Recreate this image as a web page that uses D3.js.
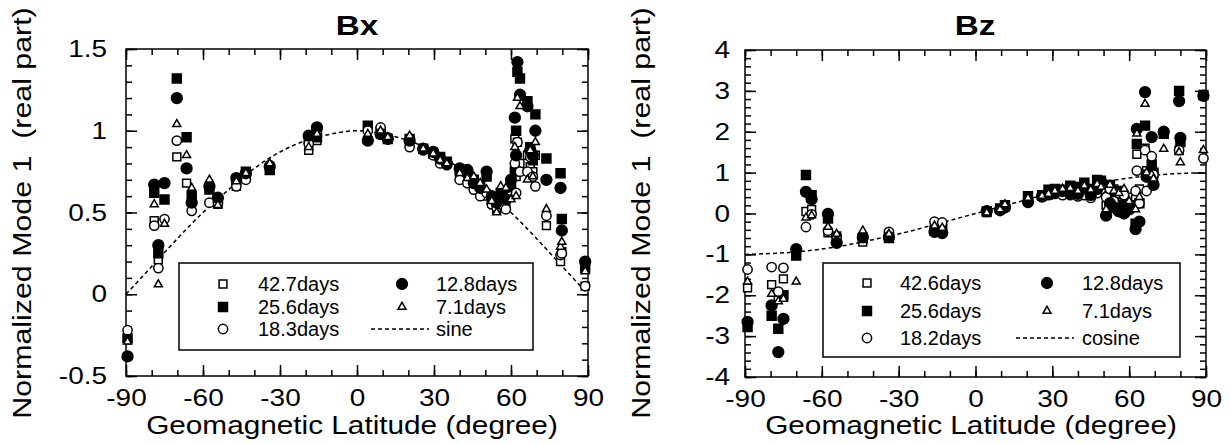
<!DOCTYPE html>
<html>
<head>
<meta charset="utf-8">
<script src="https://cdn.jsdelivr.net/npm/d3@7"></script>
<style>
  body { margin: 0; background: #fff; }
  text { font-family: "Liberation Sans", Arial, Helvetica, sans-serif; fill: #000; }
</style>
</head>
<body>
<div id="chart"></div>
<script>
// ---- data: Bx panel (station latitude + one value per period) ----
const bxLat = [-89.4, -79, -77.4, -75, -70.2, -66.4, -64.4, -57.5, -54.2, -47, -43.3, -34, -18.8, -15.6, 4.2, 9.2, 12, 20.5, 25.8, 29.7, 32.4, 35, 40, 43, 45.5, 48, 50.5, 52.5, 54.4, 56, 58, 60, 61.5, 62, 62.5, 63.5, 66.4, 67.5, 68.5, 69.5, 73.8, 79.3, 79.8, 88.9];
const bx42 = [-0.27, 0.45, 0.21, null, 0.84, 0.68, 0.57, 0.65, 0.55, 0.66, 0.73, 0.77, 0.88, 0.94, 1.02, 0.98, 0.95, 0.93, 0.89, 0.87, 0.82, 0.80, 0.72, 0.70, 0.66, 0.62, 0.60, 0.56, 0.52, 0.58, 0.55, 0.62, 0.95, 0.72, 0.93, 0.80, 0.85, 0.78, 0.75, 0.85, 0.42, 0.20, 0.26, 0.05];
const bx25 = [-0.27, 0.62, 0.25, 0.58, 1.32, 0.96, 0.60, 0.64, 0.57, 0.70, 0.75, 0.76, 0.95, 0.96, 1.03, 0.99, 0.95, 0.95, 0.89, 0.86, 0.84, 0.81, 0.76, 0.74, 0.70, 0.66, 0.72, 0.58, 0.55, 0.62, 0.60, 0.66, 0.75, 1.00, 1.36, 1.32, 1.18, 0.90, 0.82, 1.10, 0.83, 0.74, 0.46, 0.16];
const bx18 = [-0.22, 0.42, 0.16, 0.46, 0.94, null, 0.51, 0.56, 0.56, 0.66, 0.70, 0.79, 0.92, 1.00, 1.00, 1.02, 0.96, 0.90, 0.88, 0.85, 0.80, 0.79, 0.70, 0.68, 0.64, 0.60, 0.62, 0.55, 0.53, 0.55, 0.52, 0.60, 0.80, 0.62, 0.93, 0.75, 0.75, 0.84, 0.72, 0.66, 0.48, 0.24, 0.25, 0.05];
const bx12 = [-0.38, 0.67, 0.30, 0.68, 1.20, 0.77, 0.56, 0.66, 0.59, 0.71, 0.74, 0.78, 0.97, 1.02, 0.94, 0.98, 0.95, 0.94, 0.89, 0.87, 0.83, 0.80, 0.77, 0.76, 0.68, 0.65, 0.75, 0.60, 0.56, 0.60, 0.58, 0.70, 1.08, 0.85, 1.42, 1.22, 1.15, 0.88, 0.85, 1.00, 0.70, 0.65, 0.39, 0.20];
const bx7  = [-0.29, 0.55, 0.06, 0.43, 1.04, 0.85, 0.65, 0.70, 0.545, 0.69, 0.74, 0.80, 0.90, 0.98, 0.98, 1.00, 0.96, 0.97, 0.89, 0.86, 0.82, 0.80, 0.74, 0.71, 0.72, 0.68, 0.64, 0.57, 0.50, 0.66, 0.65, 0.58, 0.90, 0.60, 1.20, 1.15, 0.70, 0.88, 0.72, 0.93, 0.52, 0.29, 0.32, 0.14];
const sineLat = [-90, -80, -70, -60, -50, -40, -30, -20, -10, 0, 10, 20, 30, 40, 50, 60, 70, 80, 90];
const sineVal = [0, 0.17, 0.34, 0.5, 0.64, 0.77, 0.87, 0.94, 0.98, 1, 0.98, 0.94, 0.87, 0.77, 0.64, 0.5, 0.34, 0.17, 0];

// ---- data: Bz panel ----
const bzLat = [-89, -79.6, -77, -75, -70, -66.2, -64, -57.6, -54.2, -44, -33.8, -16, -13, 4.4, 9.6, 11.5, 20.5, 26, 28.5, 31, 34, 37, 40, 42.5, 45, 47.5, 49, 51, 52.5, 54, 56, 58, 60, 62.5, 63, 64, 66.2, 66.8, 68.8, 69.5, 73.5, 79.5, 80, 89];
const bz42 = [-1.82, -1.74, -2.05, -1.6, null, 0.05, 0.1, -0.47, -0.55, -0.7, -0.52, -0.3, -0.3, 0.02, 0.1, 0.18, 0.35, 0.42, 0.45, 0.5, 0.5, 0.55, 0.6, 0.7, 0.55, 0.7, 0.75, 0.2, 0.55, 0.6, 0.35, 0.3, 0.4, 0.35, 1.45, 0.6, 1.6, 1.05, 1.1, 0.9, null, 1.55, null, null];
const bz25 = [-2.78, -2.5, -2.82, -2.0, -1.03, 0.94, 0.45, -0.12, -0.63, -0.6, -0.6, -0.42, -0.38, 0.05, 0.12, 0.2, 0.42, 0.45, 0.58, 0.6, 0.58, 0.68, 0.65, 0.75, 0.6, 0.82, 0.8, 0.68, 0.7, 0.45, 0.55, 0.2, 0.2, -0.25, 1.7, 0.25, 2.15, 0.95, 1.2, 1.0, 1.95, 3.0, 1.75, 2.9];
const bz18 = [-1.37, -1.31, -1.91, -1.33, null, -0.33, -0.02, -0.42, -0.58, -0.55, -0.45, -0.2, -0.22, 0.04, 0.1, 0.2, 0.3, 0.4, 0.45, 0.48, 0.45, 0.45, 0.42, 0.45, 0.38, 0.5, 0.6, 0.4, 0.6, 0.3, 0.5, 0.45, 0.15, 0.55, 1.05, 0.25, 1.55, 0.55, 1.4, 0.95, null, 1.55, null, 1.35];
const bz12 = [-2.65, -2.25, -3.39, -2.58, -0.87, 0.53, 0.35, -0.01, -0.72, -0.58, -0.58, -0.45, -0.48, 0.06, 0.08, 0.15, 0.28, 0.42, 0.5, 0.52, 0.55, 0.5, 0.48, 0.62, 0.45, 0.6, 0.78, -0.05, 0.25, 0.15, 0.05, 0.0, 0.1, -0.38, 2.07, -0.2, 2.97, 0.9, 1.87, 0.7, 2.0, 2.75, 1.85, 2.88];
const bz7  = [-1.67, -1.97, -2.15, -2.09, -1.67, -0.1, -0.05, -0.33, -0.5, -0.42, -0.5, -0.3, -0.35, 0.02, 0.1, 0.22, 0.38, 0.43, 0.48, 0.55, 0.6, 0.62, 0.55, 0.68, 0.58, 0.72, 0.65, 0.1, 0.7, 0.55, 0.5, 0.6, 0.3, 0.1, 1.95, 0.4, 2.68, 1.0, 0.95, 0.85, 1.58, 1.5, 1.25, 1.55];
const cosLat = [-90, -80, -70, -60, -50, -40, -30, -20, -10, 0, 10, 20, 30, 40, 50, 60, 70, 80, 90];
const cosVal = [-1, -0.98, -0.94, -0.87, -0.77, -0.64, -0.5, -0.34, -0.17, 0, 0.17, 0.34, 0.5, 0.64, 0.77, 0.87, 0.94, 0.98, 1];

// ---- ticks and labels ----
const latTicks = [-90, -60, -30, 0, 30, 60, 90];
const latLabels = ["-90", "-60", "-30", "0", "30", "60", "90"];
const bxTicks = [-0.5, 0, 0.5, 1, 1.5];
const bxLabels = ["-0.5", "0", "0.5", "1", "1.5"];
const bzTicks = [-4, -3, -2, -1, 0, 1, 2, 3, 4];
const bzLabels = ["-4", "-3", "-2", "-1", "0", "1", "2", "3", "4"];
const bxLegend = ["42.7days", "25.6days", "18.3days", "12.8days", "7.1days", "sine"];
const bzLegend = ["42.6days", "25.6days", "18.2days", "12.8days", "7.1days", "cosine"];
const yTitle = "Normalized Mode 1  (real part)";
const xTitle = "Geomagnetic Latitude (degree)";

const SX = 1.19; // glyphs in the reference are wider than Liberation Sans

var svg = d3.select("#chart").append("svg")
    .attr("width", 1230)
    .attr("height", 444);
svg.append("rect").attr("width", 1230).attr("height", 444).attr("fill", "#fff");

function stretch(sel) {
    sel.each(function() {
        let t = d3.select(this);
        let x0 = +t.attr("x") || 0;
        t.attr("transform", (t.attr("transform") || "") +
            " translate(" + x0 + ",0) scale(" + SX + ",1) translate(" + (-x0) + ",0)");
    });
}

// marker shapes, same order as the legend
const markers = [
    {type: d3.symbolSquare, size: 62, fill: "#fff"},
    {type: d3.symbolSquare, size: 80, fill: "#000"},
    {type: d3.symbolCircle, size: 68, fill: "#fff"},
    {type: d3.symbolCircle, size: 92, fill: "#000"},
    {type: d3.symbolTriangle, size: 28, fill: "#fff"}
];

function drawMarker(sel, m) {
    sel.attr("d", d3.symbol().type(m.type).size(m.size))
        .attr("fill", m.fill)
        .attr("stroke", "#000")
        .attr("stroke-width", 1.5);
}

function drawPanel(p) {
    var x = d3.scaleLinear().domain([-90, 90]).range([p.left, p.right]);
    var y = d3.scaleLinear().domain(p.yDomain).range([p.bottom, p.top]);

    var g = svg.append("g");

    var xMinor = d3.range(-90, 91, 10);
    var yMinor = d3.range(p.yDomain[0], p.yDomain[1] + 1e-9, p.yStep);

    function clean(a) {
        a.select(".domain").remove();
        a.attr("font-size", null).attr("font-family", null);
        a.selectAll("line").attr("stroke-width", 1.5);
    }

    // minor ticks on all four sides, pointing inward
    g.append("g").attr("transform", "translate(0," + p.bottom + ")")
        .call(d3.axisBottom(x).tickValues(xMinor).tickSize(-6).tickFormat("")).call(clean);
    g.append("g").attr("transform", "translate(0," + p.top + ")")
        .call(d3.axisTop(x).tickValues(xMinor).tickSize(-6).tickFormat("")).call(clean);
    g.append("g").attr("transform", "translate(" + p.left + ",0)")
        .call(d3.axisLeft(y).tickValues(yMinor).tickSize(-6).tickFormat("")).call(clean);
    g.append("g").attr("transform", "translate(" + p.right + ",0)")
        .call(d3.axisRight(y).tickValues(yMinor).tickSize(-6).tickFormat("")).call(clean);

    // major ticks with labels
    var xa = g.append("g").attr("transform", "translate(0," + p.bottom + ")")
        .call(d3.axisBottom(x).tickValues(latTicks).tickSize(-11).tickPadding(13)
            .tickFormat((d, i) => latLabels[i])).call(clean);
    g.append("g").attr("transform", "translate(0," + p.top + ")")
        .call(d3.axisTop(x).tickValues(latTicks).tickSize(-11).tickFormat("")).call(clean);
    var ya = g.append("g").attr("transform", "translate(" + p.left + ",0)")
        .call(d3.axisLeft(y).tickValues(p.yTicks).tickSize(-11).tickPadding(p.yPad)
            .tickFormat((d, i) => p.yLabels[i])).call(clean);
    g.append("g").attr("transform", "translate(" + p.right + ",0)")
        .call(d3.axisRight(y).tickValues(p.yTicks).tickSize(-11).tickFormat("")).call(clean);

    xa.selectAll("text").attr("font-size", "23.5px").call(stretch);
    ya.selectAll("text").attr("font-size", "23.5px").call(stretch);

    // frame
    g.append("rect")
        .attr("x", p.left).attr("y", p.top)
        .attr("width", p.right - p.left).attr("height", p.bottom - p.top)
        .attr("fill", "none").attr("stroke", "#000").attr("stroke-width", 1.5);

    // reference curve
    g.append("path")
        .datum(p.curveLat.map((d, i) => [d, p.curveVal[i]]))
        .attr("fill", "none")
        .attr("stroke", "#000")
        .attr("stroke-width", 1.5)
        .attr("stroke-dasharray", "4,3")
        .attr("d", d3.line().curve(d3.curveNatural)
            .x(d => x(d[0]))
            .y(d => y(d[1])));

    // points
    p.series.forEach((vals, k) => {
        let pts = [];
        p.lat.forEach((l, i) => { if (vals[i] != null) pts.push({lat: l, v: vals[i]}); });
        g.append("g").selectAll("path")
            .data(pts)
            .enter()
            .append("path")
                .attr("transform", d => "translate(" + x(d.lat) + "," + y(d.v) + ")")
                .call(drawMarker, markers[k]);
    });

    // legend
    var L = p.legend;
    g.append("rect")
        .attr("x", L.x0).attr("y", L.y0)
        .attr("width", L.x1 - L.x0).attr("height", L.y1 - L.y0)
        .attr("fill", "#fff").attr("stroke", "#000").attr("stroke-width", 1.5);
    p.legendText.forEach((t, i) => {
        let col = i < 3 ? 0 : 1;
        let row = i % 3;
        let cy = L.rows[row];
        if (i < 5) {
            g.append("path")
                .attr("transform", "translate(" + L.sym[col] + "," + cy + ")")
                .call(drawMarker, markers[i]);
        } else {
            g.append("line")
                .attr("x1", L.line[0]).attr("x2", L.line[1])
                .attr("y1", cy).attr("y2", cy)
                .attr("stroke", "#000").attr("stroke-width", 1.5)
                .attr("stroke-dasharray", "4,3");
        }
        g.append("text")
            .attr("x", L.text[col])
            .attr("y", cy + 7)
            .attr("font-size", "20px")
            .text(t);
    });

    // titles
    g.append("text")
        .attr("x", p.titleX).attr("y", 35)
        .attr("text-anchor", "middle")
        .attr("font-size", "28px")
        .attr("font-weight", "bold")
        .text(p.title)
        .call(stretch);

    g.append("text")
        .attr("x", p.xTitleX).attr("y", 434)
        .attr("text-anchor", "middle")
        .attr("font-size", "25px")
        .text(xTitle)
        .call(stretch);

    g.append("text")
        .attr("transform", "translate(" + p.yTitleX + ",213) rotate(-90)")
        .attr("text-anchor", "middle")
        .attr("font-size", "25.5px")
        .style("white-space", "pre")
        .text(yTitle)
        .call(stretch);
}

drawPanel({
    left: 126, right: 588, top: 49, bottom: 376,
    yDomain: [-0.5, 1.5], yStep: 0.1, yTicks: bxTicks, yLabels: bxLabels, yPad: 19,
    lat: bxLat, series: [bx42, bx25, bx18, bx12, bx7],
    curveLat: sineLat, curveVal: sineVal,
    legendText: bxLegend,
    legend: {x0: 179, x1: 533, y0: 263, y1: 350, rows: [284, 307, 329],
             sym: [223, 402], text: [258, 436], line: [371, 429]},
    title: "Bx", titleX: 357, xTitleX: 352, yTitleX: 31
});

drawPanel({
    left: 745, right: 1206, top: 50, bottom: 377,
    yDomain: [-4, 4], yStep: 0.2, yTicks: bzTicks, yLabels: bzLabels, yPad: 15,
    lat: bzLat, series: [bz42, bz25, bz18, bz12, bz7],
    curveLat: cosLat, curveVal: cosVal,
    legendText: bzLegend,
    legend: {x0: 823, x1: 1180, y0: 263, y1: 357, rows: [283, 311, 338],
             sym: [867, 1047], text: [900, 1082], line: [1016, 1074]},
    title: "Bz", titleX: 975, xTitleX: 971, yTitleX: 650
});
</script>
</body>
</html>
